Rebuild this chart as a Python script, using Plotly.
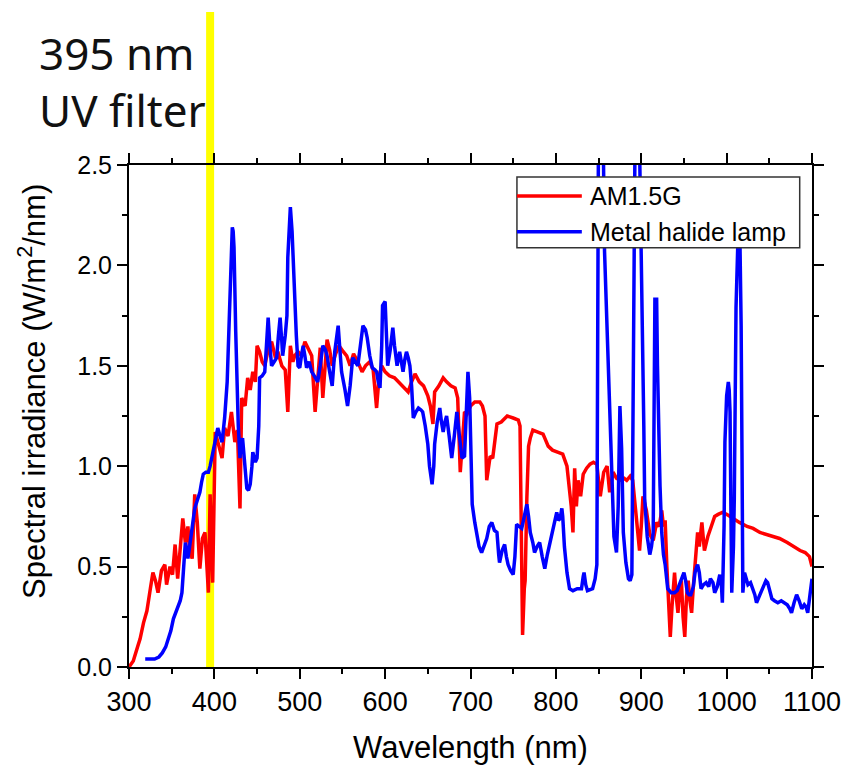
import plotly.graph_objects as go

# ---------------- data ----------------
am15_wl = [300,305,310,313,317,321,325,328,331,334,338,342,344,348,351,354,357,360,363,366,369,371,374,377,380,383,386,389,391,393,395,397,398,
           401,405,409,412,416,420,422,424,427,430,432,436,439,442,445,448,450,453,456,459,463,467,471,475,479,483,486,489,492,494,498,
           502,506,510,514,518,521,524,527,530,532,535,538,542,546,551,555,559,563,568,573,577,582,586,590,593,596,
           600,605,611,616,621,627,631,635,640,645,650,653,656,658,663,668,672,677,682,685,688,690,693,696,
           700,705,711,714,717,719,721,723,726,729,731,736,743,750,756,758,760,761,763,764,766,768,770,773,779,785,791,796,
           802,808,813,816,818,820,822,824,826,829,832,836,840,844,848,852,856,860,863,867,871,875,880,883,887,890,893,895,898,
           900,902,906,910,914,918,921,924,926,928,930,932,934,936,939,941,943,945,947,949,951,953,955,957,959,961,963,966,968,
           971,974,976,978,982,986,990,995,1000,1007,1015,1024,1031,1039,1046,1054,1062,1071,1078,1086,1092,1097,1100]
am15_val = [0.00,0.03,0.10,0.14,0.22,0.28,0.39,0.47,0.43,0.37,0.48,0.51,0.41,0.50,0.46,0.61,0.44,0.60,0.74,0.62,0.70,0.58,0.54,0.86,0.72,0.49,0.64,0.67,0.55,0.37,0.86,0.60,0.42,
            1.17,1.10,1.04,1.19,1.15,1.27,1.20,1.12,1.18,0.79,1.34,1.30,1.44,1.38,1.47,1.42,1.60,1.57,1.52,1.50,1.58,1.62,1.55,1.56,1.50,1.48,1.27,1.60,1.52,1.55,1.57,
            1.55,1.62,1.58,1.55,1.27,1.45,1.59,1.34,1.50,1.63,1.58,1.50,1.56,1.60,1.57,1.55,1.50,1.56,1.52,1.47,1.50,1.52,1.48,1.29,1.45,1.50,
            1.47,1.45,1.44,1.42,1.40,1.37,1.42,1.46,1.42,1.40,1.35,1.30,1.21,1.37,1.40,1.44,1.42,1.40,1.39,1.34,0.97,1.10,1.27,1.26,
            1.30,1.32,1.32,1.30,1.25,0.93,1.00,1.05,1.04,1.15,1.21,1.22,1.25,1.24,1.23,1.20,0.68,0.16,0.39,0.43,0.84,1.10,1.14,1.18,1.17,1.16,1.10,1.08,
            1.07,1.06,1.00,0.90,0.80,0.67,0.99,0.80,0.93,0.85,0.96,0.99,1.01,1.02,1.01,0.85,0.97,1.00,0.87,0.97,0.94,0.93,0.94,0.93,0.95,0.93,0.80,0.73,0.58,
            0.70,0.85,0.78,0.66,0.63,0.72,0.70,0.78,0.70,0.73,0.50,0.30,0.15,0.30,0.47,0.35,0.27,0.38,0.43,0.25,0.15,0.35,0.43,0.33,0.27,0.40,0.50,0.67,0.60,
            0.72,0.58,0.62,0.65,0.70,0.75,0.76,0.77,0.76,0.74,0.72,0.70,0.69,0.67,0.66,0.65,0.64,0.62,0.60,0.58,0.57,0.55,0.50]

lamp_wl = [319,330,335,339,343,346,349,352,355,357,360,362,364,366,368,369,371,373,375,377,380,383,385,387,390,393,395,397,399,
           401,404,406,409,412,415,416,418,420,421,422,423,425,427,428,430,431,433,435,438,440,442,444,445,448,450,452,453,456,459,461,463,465,467,470,473,475,477,479,480,483,485,486,487,489,491,492,494,496,498,
           500,502,504,506,508,511,514,517,521,524,527,530,532,535,538,541,543,545,547,549,553,556,559,562,565,568,571,574,577,579,582,585,588,590,592,594,596,597,
           600,601,603,606,609,611,614,617,619,621,623,625,627,629,631,633,636,639,642,644,647,650,652,655,657,658,661,664,666,668,670,672,675,678,681,684,687,690,693,696,697,699,
           701,702,705,707,710,713,716,719,722,725,728,731,733,734,737,740,742,744,747,750,752,754,757,760,763,766,768,770,773,775,778,781,784,787,790,793,795,798,
           801,803,805,807,808,810,813,816,820,825,830,832,833,835,837,843,846,848,849,850,852,854,855,857,859,861,863,866,868,871,873,875,877,879,882,885,887,889,890,892,893,895,897,898,
           900,901,903,904,907,910,912,914,915,916,917,918,919,920,922,924,926,928,930,931,935,939,942,945,948,950,952,954,956,958,961,963,965,966,968,970,973,976,979,981,984,986,989,992,994,995,997,998,
           1000,1002,1003,1004,1005,1006,1008,1009,1011,1013,1014,1015,1016,1017,1018,1019,1021,1023,1025,1028,1031,1033,1035,1038,1041,1044,1046,1048,1050,1053,1056,1060,1064,1068,1071,1074,1076,1079,1082,1085,1088,1091,1093,1095,1097,1099,1100]
lamp_val = [0.04,0.04,0.05,0.07,0.10,0.14,0.18,0.24,0.27,0.29,0.33,0.37,0.51,0.62,0.58,0.54,0.60,0.67,0.73,0.79,0.83,0.87,0.92,0.96,0.97,0.97,1.00,1.04,1.09,
            1.14,1.19,1.16,1.12,1.24,1.42,1.55,1.84,2.09,2.19,2.17,2.09,1.67,1.35,1.20,1.04,1.10,1.14,1.05,0.89,0.88,0.91,1.00,1.07,1.02,1.04,1.20,1.44,1.45,1.47,1.60,1.74,1.60,1.50,1.52,1.54,1.65,1.74,1.62,1.55,1.65,1.75,2.04,2.15,2.29,2.17,2.04,1.84,1.65,1.50,
            1.49,1.55,1.60,1.55,1.49,1.52,1.47,1.45,1.42,1.50,1.60,1.58,1.55,1.47,1.40,1.57,1.64,1.70,1.58,1.47,1.38,1.30,1.40,1.54,1.52,1.50,1.60,1.70,1.68,1.64,1.55,1.49,1.48,1.47,1.42,1.39,1.60,1.80,
            1.82,1.70,1.50,1.58,1.69,1.60,1.50,1.57,1.52,1.47,1.53,1.57,1.54,1.50,1.40,1.24,1.27,1.29,1.28,1.27,1.20,1.11,1.00,0.91,1.00,1.11,1.22,1.29,1.22,1.17,1.22,1.25,1.15,1.04,1.15,1.27,1.15,1.04,1.05,1.47,1.47,1.34,
            1.00,0.81,0.72,0.67,0.60,0.57,0.60,0.64,0.70,0.72,0.68,0.67,0.56,0.52,0.58,0.61,0.55,0.51,0.48,0.46,0.55,0.71,0.70,0.69,0.75,0.81,0.75,0.67,0.62,0.57,0.60,0.62,0.55,0.49,0.56,0.62,0.67,0.72,
            0.77,0.73,0.74,0.79,0.75,0.60,0.47,0.39,0.38,0.39,0.39,0.45,0.47,0.41,0.38,0.39,0.44,0.51,1.84,2.80,2.60,2.70,2.80,2.07,1.80,1.50,1.20,0.84,0.65,0.57,0.80,1.30,1.09,0.67,0.52,0.44,0.43,0.46,1.17,2.20,2.80,2.70,2.80,2.60,
            2.10,1.84,1.20,0.84,0.65,0.56,0.60,0.67,1.20,1.84,1.78,1.84,1.50,1.25,0.90,0.67,0.56,0.51,0.42,0.39,0.37,0.37,0.38,0.41,0.45,0.47,0.43,0.37,0.36,0.36,0.40,0.47,0.50,0.51,0.47,0.39,0.41,0.42,0.40,0.44,0.42,0.37,0.40,0.46,0.40,0.32,0.70,1.12,
            1.35,1.42,1.38,1.27,0.80,0.37,0.60,0.84,1.79,2.09,2.40,2.30,2.00,1.70,1.07,0.37,0.47,0.44,0.41,0.42,0.39,0.36,0.32,0.35,0.37,0.40,0.43,0.42,0.38,0.34,0.33,0.32,0.33,0.32,0.31,0.29,0.27,0.32,0.36,0.33,0.29,0.31,0.30,0.27,0.33,0.42,0.44]

series_names = ["AM1.5G", "Metal halide lamp"]
series_colors = ["#FF0000", "#0000FF"]
filter_wl = 395
x_range = [300, 1100]
y_range = [0, 2.5]
x_title = "Wavelength (nm)"
y_title = "Spectral irradiance (W/m<sup>2</sup>/nm)"
note_text = "395 nm<br>UV filter"

FONT = "Liberation Sans, Arial"

# ---------------- figure ----------------
fig = go.Figure()
for wl, val, name, col in [(am15_wl, am15_val, series_names[0], series_colors[0]),
                           (lamp_wl, lamp_val, series_names[1], series_colors[1])]:
    fig.add_trace(go.Scatter(x=wl, y=val, mode="lines", name=name,
                             line=dict(color=col, width=3.5), showlegend=False))

# yellow filter line (extends above the plot)
fig.add_shape(type="line", xref="x", yref="paper", x0=filter_wl, x1=filter_wl,
              y0=0, y1=1.305, line=dict(color="#FFFF00", width=8), layer="below")

# legend box
fig.add_shape(type="rect", xref="paper", yref="paper", x0=0.568, x1=0.982, y0=0.835, y1=0.976,
              fillcolor="white", line=dict(color="#333333", width=1.5), layer="above")
leg_y = [0.938, 0.867]
for i in range(2):
    fig.add_shape(type="line", xref="paper", yref="paper", x0=0.568, x1=0.663,
                  y0=leg_y[i], y1=leg_y[i], line=dict(color=series_colors[i], width=3.5), layer="above")
    fig.add_annotation(xref="paper", yref="paper", x=0.672, y=leg_y[i], text=series_names[i],
                       showarrow=False, xanchor="left", yanchor="middle",
                       font=dict(family=FONT, size=25, color="black"))

# filter note
fig.add_annotation(xref="paper", yref="paper", x=-0.135, y=1.287, text=note_text,
                   showarrow=False, xanchor="left", yanchor="top", align="left",
                   font=dict(family="Noto Sans", size=44, color="#111111"))

# y-axis title
fig.add_annotation(xref="paper", yref="paper", x=-0.142, y=0.548, text=y_title,
                   showarrow=False, textangle=-90, xanchor="center", yanchor="middle",
                   font=dict(family=FONT, size=31, color="black"))

axis_common = dict(showline=True, linewidth=2, linecolor="black", mirror="allticks",
                   ticks="outside", ticklen=10, tickwidth=2, tickcolor="black",
                   showgrid=False, zeroline=False)
fig.update_xaxes(range=x_range, dtick=100, tick0=300,
                 minor=dict(dtick=50, ticks="outside", ticklen=5, tickwidth=2, tickcolor="black", showgrid=False),
                 tickfont=dict(family=FONT, size=27, color="black"),
                 title=dict(text=x_title, font=dict(family=FONT, size=31, color="black"), standoff=20),
                 **axis_common)
fig.update_yaxes(range=y_range, dtick=0.5, tick0=0, tickformat=".1f",
                 minor=dict(dtick=0.25, ticks="outside", ticklen=5, tickwidth=2, tickcolor="black", showgrid=False),
                 tickfont=dict(family=FONT, size=25, color="black"),
                 **axis_common)
fig.update_layout(width=847, height=765, margin=dict(l=129, r=35, t=165, b=98, autoexpand=False),
                  paper_bgcolor="white", plot_bgcolor="white", showlegend=False)
fig.write_html("out.html")
